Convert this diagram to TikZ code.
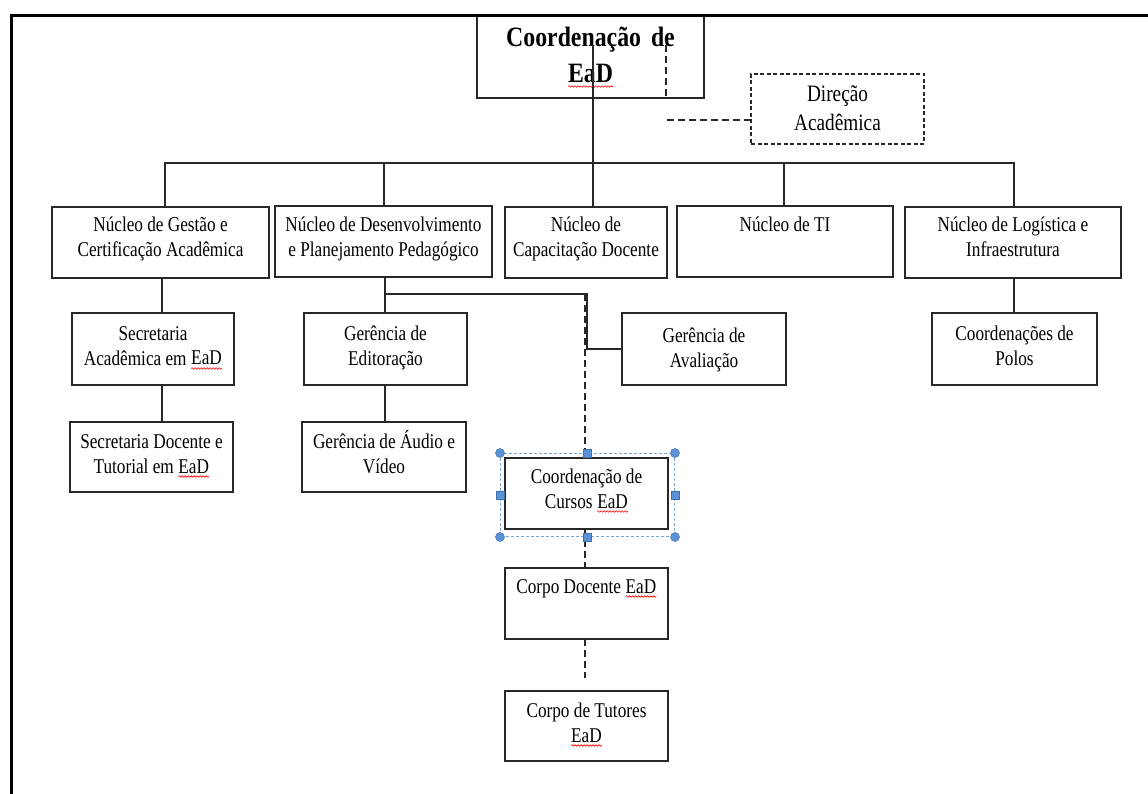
\documentclass[tikz,border=0pt]{standalone}
\usepackage{fontspec}
\setmainfont{Liberation Serif}[FakeStretch=0.82]
\newfontfamily\topfont{Liberation Serif}[FakeStretch=0.85]
\usetikzlibrary{decorations.pathmorphing}
\definecolor{lnc}{RGB}{40,40,40}
\definecolor{selblue}{RGB}{120,165,220}
\definecolor{hfill}{RGB}{91,146,215}
\definecolor{hdraw}{RGB}{65,113,170}
\tikzset{
 boxst/.style={draw=lnc, line width=1.3pt, inner sep=0pt, outer sep=0pt, anchor=north west},
 dboxst/.style={boxst, dash pattern=on 4pt off 2.5pt},
 txtst/.style={inner sep=0pt, anchor=base, font=\fontsize{21}{25}\selectfont},
 dirtxt/.style={font=\fontsize{23.5}{29}\selectfont},
 toptxt/.style={font=\topfont\bfseries\fontsize{28}{36}\selectfont},
 link/.style={draw=lnc, line width=1.3pt},
 dlink/.style={draw=lnc, line width=1.5pt, dash pattern=on 7pt off 4pt},
 framest/.style={draw=black, line width=3pt},
 squig/.style={draw=red, line width=0.6pt, decorate, decoration={snake, amplitude=0.8pt, segment length=3pt}},
 selst/.style={draw=selblue, line width=1pt, dash pattern=on 3pt off 2pt, inner sep=0pt, anchor=north west},
 hcirc/.style={circle, fill=hfill, draw=hdraw, line width=0.5pt, minimum size=9pt, inner sep=0pt},
 hsq/.style={rectangle, fill=hfill, draw=hdraw, line width=0.5pt, minimum size=8pt, inner sep=0pt},
}
\newcommand\mlines[1]{\begin{tabular}[t]{@{}c@{}}#1\end{tabular}}
\newcommand\ead{\tikz[baseline=(eadw.base)]{\node[inner sep=0pt, outer sep=0pt, draw=none, anchor=center] (eadw) {EaD}; \draw[squig] ([yshift=-3.5pt]eadw.base west) -- ([yshift=-3.5pt]eadw.base east);}}
% style, text style, name, x1, y1, x2, y2, baseline offset, text
\newcommand\obox[9]{%
  \node[#1, minimum width={(#6-#4)*1pt}, minimum height={(#7-#5)*1pt}] (#3) at (#4,#5) {};
  \node[#2] (#3t) at ([yshift=-#8pt]#3.north) {\mlines{#9}};
}
\begin{document}
\begin{tikzpicture}[x=1pt,y=-1pt]
\useasboundingbox (0,0) rectangle (1148,794);

\obox{boxst}{txtst,toptxt}{top}{477}{15}{704}{98}{32}{Coordenação\hspace{4pt} de\\\ead}
\obox{dboxst}{txtst,dirtxt}{direc}{751}{74}{924}{144}{28}{Direção\\Acadêmica}
\obox{boxst}{txtst}{gestao}{52}{207}{269}{278}{25}{Núcleo de Gestão e\\Certificação Acadêmica}
\obox{boxst}{txtst}{desenv}{275}{206}{492}{277}{26}{Núcleo de Desenvolvimento\\e Planejamento Pedagógico}
\obox{boxst}{txtst}{capac}{505}{207}{667}{278}{25}{Núcleo de\\Capacitação Docente}
\obox{boxst}{txtst}{ti}{677}{206}{893}{277}{26}{Núcleo de TI}
\obox{boxst}{txtst}{logist}{905}{207}{1121}{278}{25}{Núcleo de Logística e\\Infraestrutura}
\obox{boxst}{txtst}{secac}{72}{313}{234}{385}{27}{Secretaria\\Acadêmica em \ead}
\obox{boxst}{txtst}{secdoc}{70}{422}{233}{492}{26}{Secretaria Docente e\\Tutorial em \ead}
\obox{boxst}{txtst}{edit}{304}{313}{467}{385}{27}{Gerência de\\Editoração}
\obox{boxst}{txtst}{audio}{302}{422}{466}{492}{26}{Gerência de Áudio e\\Vídeo}
\obox{boxst}{txtst}{aval}{622}{313}{786}{385}{29}{Gerência de\\Avaliação}
\obox{boxst}{txtst}{polos}{932}{313}{1097}{385}{27}{Coordenações de\\Polos}
\obox{boxst}{txtst}{cursos}{505}{458}{668}{529}{25}{Coordenação de\\Cursos \ead}
\obox{boxst}{txtst}{docente}{505}{568}{668}{639}{25}{Corpo Docente \ead}
\obox{boxst}{txtst}{tutores}{505}{691}{668}{761}{26}{Corpo de Tutores\\\ead}

% main bus
\coordinate (tl) at (593,45);
\coordinate (bus) at (593,163);
\coordinate (xg) at (165,0);
\coordinate (xd) at (384,0);
\coordinate (xc) at (593,0);
\coordinate (xt) at (784,0);
\coordinate (xl) at (1014,0);
\draw[link] (tl) -- (bus);
\draw[link] (gestao.north -| xg) -- (xg |- bus) -- (xl |- bus) -- (logist.north -| xl);
\draw[link] (xd |- bus) -- (desenv.north -| xd);
\draw[link] (xc |- bus) -- (capac.north -| xc);
\draw[link] (xt |- bus) -- (ti.north -| xt);

% lower links
\coordinate (xs) at (162,0);
\draw[link] (gestao.south -| xs) -- (secac.north -| xs);
\draw[link] (secac.south -| xs) -- (secdoc.north -| xs);
\coordinate (xe) at (385,0);
\draw[link] (desenv.south -| xe) -- (edit.north -| xe);
\draw[link] (edit.south -| xe) -- (audio.north -| xe);
\coordinate (j1) at (385,294);
\coordinate (xb) at (587,0);
\draw[link] (j1) -| (aval.west -| xb) -- (aval.west);
\draw[link] (logist.south -| xl) -- (polos.north -| xl);

% dashed links
\coordinate (j3) at (585,294);
\coordinate (j4) at (585,678);
\draw[dlink] (j3) -- (cursos.north -| j3);
\draw[dlink] (cursos.south -| j3) -- (docente.north -| j3);
\draw[dlink] (docente.south -| j4) -- (j4);
\coordinate (dv) at (666,45);
\draw[dlink] (dv) -- (dv |- top.south);
\coordinate (dh) at (667,120);
\draw[dlink] (dh) -- (dh -| direc.west);

% selection frame
\node[selst, minimum width=174pt, minimum height=83pt] (sel) at (500,453) {};
\foreach \a/\n in {north west/h1, north east/h2, south west/h3, south east/h4}
  \node[hcirc] (\n) at (sel.\a) {};
\foreach \a/\n in {north/h5, south/h6, west/h7, east/h8}
  \node[hsq] (\n) at (sel.\a) {};

% page frame
\draw[framest] (11.5,800) -- (11.5,15.5) -- (1152,15.5);
\end{tikzpicture}
\end{document}
